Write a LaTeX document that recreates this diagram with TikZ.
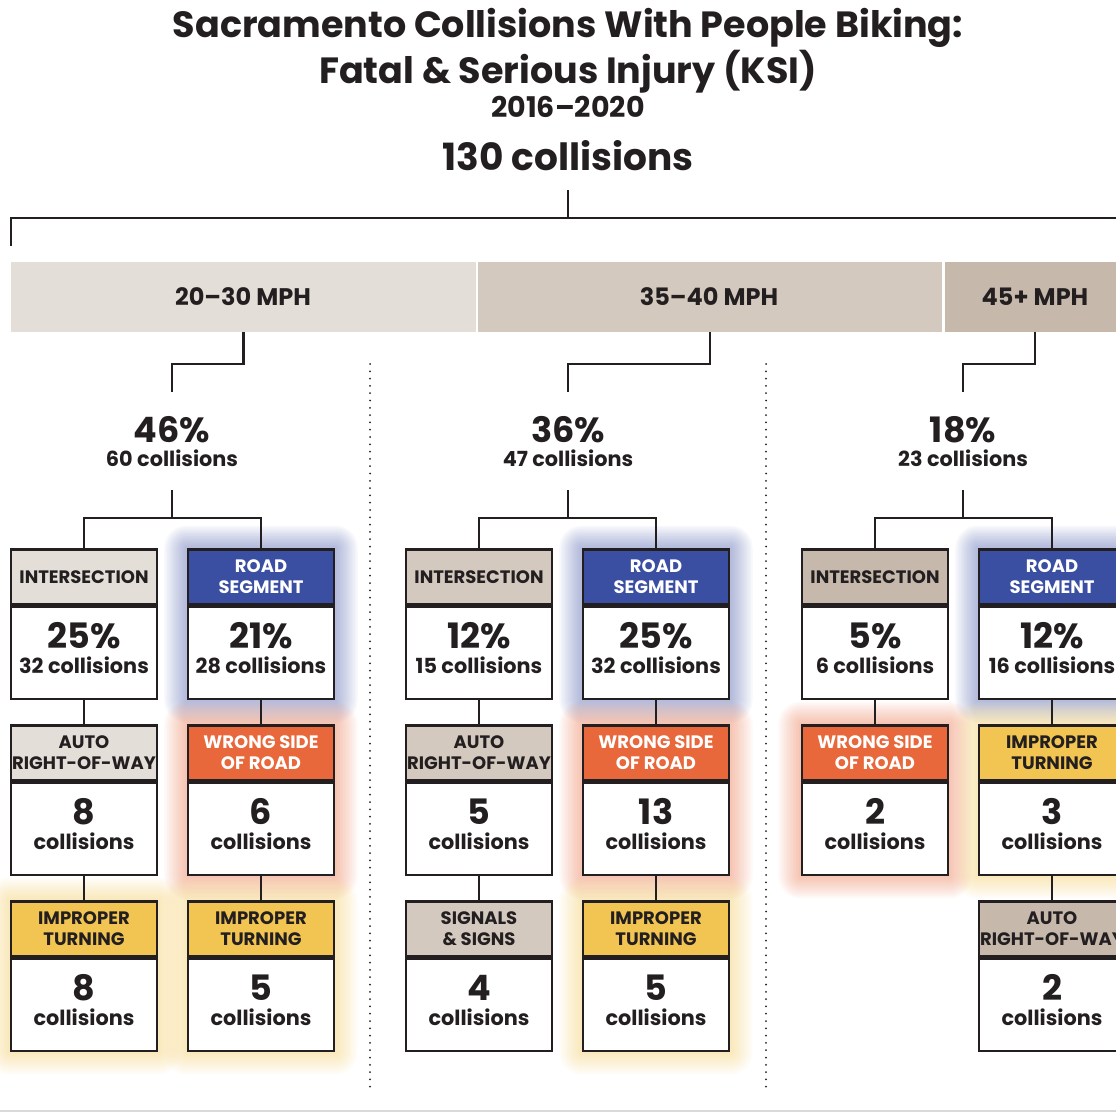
\documentclass[tikz,border=0pt]{standalone}
\usepackage{fontspec}
\setmainfont{Poppins}
\usetikzlibrary{backgrounds,calc}
\definecolor{ink}{HTML}{231F20}
\definecolor{tintA}{HTML}{E3DED8}
\definecolor{tintB}{HTML}{D4C9BF}
\definecolor{tintC}{HTML}{C6B9AC}
\definecolor{roadblue}{HTML}{3A4EA2}
\definecolor{wrongorange}{HTML}{E8683B}
\definecolor{impyellow}{HTML}{F2C553}
\newcommand{\setfs}[2]{\fontsize{#1}{#2}\selectfont}
\tikzset{
  hdr/.style={draw=ink, line width=2.6pt, minimum width=146pt, minimum height=55pt, inner sep=0pt, anchor=north, align=center, font=\bfseries\setfs{18}{20.5}},
  bodybox/.style={draw=ink, fill=white, line width=2.6pt, minimum width=146pt, minimum height=92pt, inner sep=0pt, anchor=north},
  bignum/.style={text=ink, font=\bfseries\setfs{35}{40}, inner sep=0pt, anchor=base},
  smalltxt/.style={text=ink, font=\bfseries\setfs{20.8}{24}, inner sep=0pt, anchor=base},
  link/.style={draw=ink, line width=2.4pt},
  band/.style={minimum height=70pt, inner sep=0pt, text=ink, font=\bfseries\setfs{24}{28}},
  dotline/.style={draw=ink, line width=2pt, line cap=round, dash pattern=on 0pt off 7.3pt},
}
% name, x, ytop, fill, header text colour, header, big, small
\newcommand{\cbox}[8]{%
  \node[hdr, fill=#4, text=#5] (#1h) at (#2,#3) {#6};
  \node[bodybox] (#1b) at (#1h.south) {};
  \node[bignum] (#1n) at ($(#1b.north)+(0,43)$) {#7};
  \node[smalltxt] (#1c) at ($(#1b.north)+(0,68)$) {#8};
}
\newcommand{\glow}[2]{%
  \begin{scope}[on background layer]
  \foreach \r in {1.5,3,...,22.5} {
    \fill[#2, opacity=0.03, rounded corners=\r pt] ($(#1h.north west)+(-\r,-\r)$) rectangle ($(#1b.south east)+(\r,\r)$);
  }
  \end{scope}%
}
\begin{document}
\begin{tikzpicture}[x=1pt,y=-1pt]
\useasboundingbox (0,0) rectangle (1116,1113);

% titles
\node[text=ink, font=\bfseries\setfs{36.5}{40}, anchor=base, inner sep=0pt] (t1) at (568,38) {Sacramento Collisions With People Biking:};
\node[text=ink, font=\bfseries\setfs{36.5}{40}, anchor=base, inner sep=0pt] (t2) at (568,84) {Fatal \& Serious Injury (KSI)};
\node[text=ink, font=\bfseries\setfs{28.5}{32}, anchor=base, inner sep=0pt] (t3) at (568,118) {2016\textendash2020};
\node[text=ink, font=\bfseries\setfs{37.5}{40}, anchor=base, inner sep=0pt] (tot) at (568,170) {130 collisions};

% top tree
\coordinate (j0) at (568,190);
\coordinate (j1) at (568,218);
\coordinate (jl) at (11,218);
\coordinate (jr) at (1130,218);
\coordinate (jld) at (11,246);
\draw[link, line width=2.8pt] (j0) -- (j1);
\draw[link, line width=2.8pt] (jld) -- (jl) -- (jr);

% speed bands
\node[band, fill=tintA, minimum width=465pt] (band1) at (243.5,297) {};
\node[band, fill=tintB, minimum width=464pt] (band2) at (710,297) {};
\node[band, fill=tintC, minimum width=180pt] (band3) at (1035,297) {};
\node[band, anchor=base, minimum height=0pt] (bl1) at (243,305) {20\textendash30 MPH};
\node[band, anchor=base, minimum height=0pt] (bl2) at (709,305) {35\textendash40 MPH};
\node[band, anchor=base, minimum height=0pt] (bl3) at (1035,305) {45+ MPH};

% percentages
\node[bignum] (p1) at (172,442) {46\%};
\node[smalltxt] (p1c) at (172,466) {60 collisions};
\node[bignum] (p2) at (568,442) {36\%};
\node[smalltxt] (p2c) at (568,466) {47 collisions};
\node[bignum] (p3) at (963,442) {18\%};
\node[smalltxt] (p3c) at (963,466) {23 collisions};

\coordinate (q1) at (172,392);
\coordinate (q2) at (568,392);
\coordinate (q3) at (963,392);
\draw[link] (band1.south) -- ++(0,32) -| (q1);
\draw[link] (band2.south) -- ++(0,32) -| (q2);
\draw[link] (band3.south) -- ++(0,32) -| (q3);

% boxes
\cbox{a1}{84}{548}{tintA}{ink}{INTERSECTION}{25\%}{32 collisions}
\cbox{a2}{84}{724}{tintA}{ink}{AUTO\\RIGHT-OF-WAY}{8}{collisions}
\cbox{a3}{84}{900}{impyellow}{ink}{IMPROPER\\TURNING}{8}{collisions}
\cbox{b1}{261}{548}{roadblue}{white}{ROAD\\SEGMENT}{21\%}{28 collisions}
\cbox{b2}{261}{724}{wrongorange}{white}{WRONG SIDE\\OF ROAD}{6}{collisions}
\cbox{b3}{261}{900}{impyellow}{ink}{IMPROPER\\TURNING}{5}{collisions}
\cbox{c1}{479}{548}{tintB}{ink}{INTERSECTION}{12\%}{15 collisions}
\cbox{c2}{479}{724}{tintB}{ink}{AUTO\\RIGHT-OF-WAY}{5}{collisions}
\cbox{c3}{479}{900}{tintB}{ink}{SIGNALS\\\& SIGNS}{4}{collisions}
\cbox{d1}{656}{548}{roadblue}{white}{ROAD\\SEGMENT}{25\%}{32 collisions}
\cbox{d2}{656}{724}{wrongorange}{white}{WRONG SIDE\\OF ROAD}{13}{collisions}
\cbox{d3}{656}{900}{impyellow}{ink}{IMPROPER\\TURNING}{5}{collisions}
\cbox{e1}{875}{548}{tintC}{ink}{INTERSECTION}{5\%}{6 collisions}
\cbox{e2}{875}{724}{wrongorange}{white}{WRONG SIDE\\OF ROAD}{2}{collisions}
\cbox{f1}{1052}{548}{roadblue}{white}{ROAD\\SEGMENT}{12\%}{16 collisions}
\cbox{f2}{1052}{724}{impyellow}{ink}{IMPROPER\\TURNING}{3}{collisions}
\cbox{f3}{1052}{900}{tintC}{ink}{AUTO\\RIGHT-OF-WAY}{2}{collisions}

\glow{a3}{impyellow}
\glow{b1}{roadblue}
\glow{b2}{wrongorange}
\glow{b3}{impyellow}
\glow{d1}{roadblue}
\glow{d2}{wrongorange}
\glow{d3}{impyellow}
\glow{e2}{wrongorange}
\glow{f1}{roadblue}
\glow{f2}{impyellow}

% splits
\coordinate (s1) at (172,490); \coordinate (m1) at (172,518);
\coordinate (s2) at (568,490); \coordinate (m2) at (568,518);
\coordinate (s3) at (963,490); \coordinate (m3) at (963,518);
\draw[link] (s1) -- (m1);
\draw[link] (a1h.north) |- (m1) -| (b1h.north);
\draw[link] (s2) -- (m2);
\draw[link] (c1h.north) |- (m2) -| (d1h.north);
\draw[link] (s3) -- (m3);
\draw[link] (e1h.north) |- (m3) -| (f1h.north);

% vertical links
\draw[link] (a1b.south) -- (a2h.north);
\draw[link] (a2b.south) -- (a3h.north);
\draw[link] (b1b.south) -- (b2h.north);
\draw[link] (b2b.south) -- (b3h.north);
\draw[link] (c1b.south) -- (c2h.north);
\draw[link] (c2b.south) -- (c3h.north);
\draw[link] (d1b.south) -- (d2h.north);
\draw[link] (d2b.south) -- (d3h.north);
\draw[link] (e1b.south) -- (e2h.north);
\draw[link] (f1b.south) -- (f2h.north);
\draw[link] (f2b.south) -- (f3h.north);

% dotted separators
\coordinate (dt1) at (370,364); \coordinate (db1) at (370,1088);
\coordinate (dt2) at (766,364); \coordinate (db2) at (766,1088);
\draw[dotline] (dt1) -- (db1);
\draw[dotline] (dt2) -- (db2);

% bottom rule
\coordinate (bl) at (0,1111); \coordinate (br) at (1116,1111);
\draw[black!15, line width=1.5pt] (bl) -- (br);
\end{tikzpicture}
\end{document}
